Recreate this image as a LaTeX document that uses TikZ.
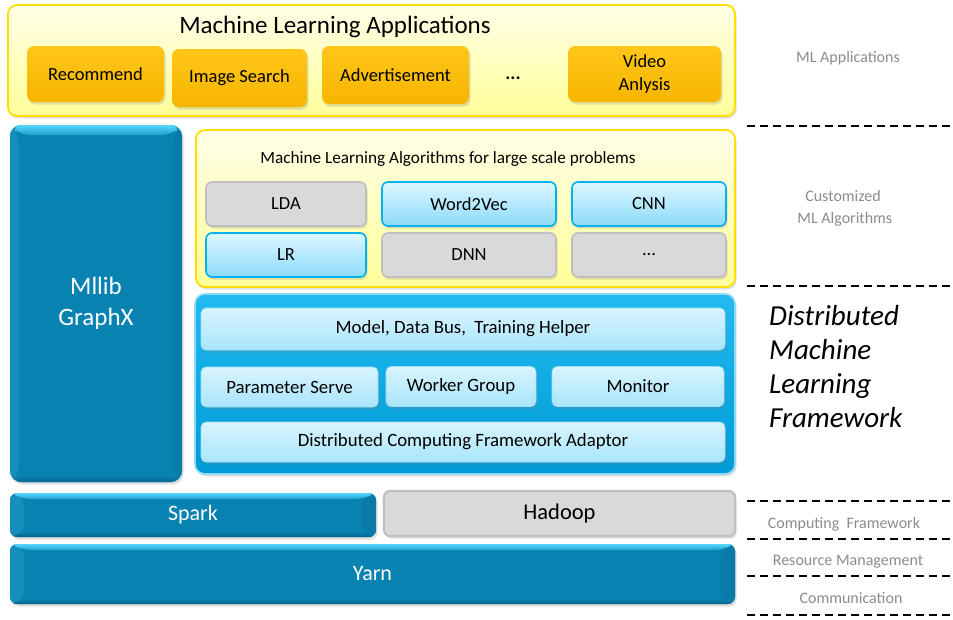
\documentclass[tikz,border=0pt]{standalone}
\usepackage{fontspec}
\setmainfont{Carlito}
\usetikzlibrary{shadows}
\definecolor{ylwtop}{HTML}{FFFFE8}
\definecolor{ylwbot}{HTML}{FFFF99}
\definecolor{ylwedge}{HTML}{FFDE00}
\definecolor{orgtop}{HTML}{FFC619}
\definecolor{orgbot}{HTML}{F7B500}
\definecolor{bvtop}{HTML}{55D6FA}
\definecolor{bvtoplow}{HTML}{1FA2D0}
\definecolor{bvmid}{HTML}{0882B1}
\definecolor{bvleft}{HTML}{168FBD}
\definecolor{bvright}{HTML}{0A7AA6}
\definecolor{bvbot}{HTML}{05648C}
\definecolor{ltbtop}{HTML}{DDF6FF}
\definecolor{ltbbot}{HTML}{8CDBFA}
\definecolor{ltbedge}{HTML}{00B0F0}
\definecolor{grayfill}{HTML}{D9D9D9}
\definecolor{grayedge}{HTML}{BFBFBF}
\definecolor{fwtop}{HTML}{22BAF0}
\definecolor{fwbot}{HTML}{009BD6}
\definecolor{fwedge}{HTML}{8ED9F6}
\definecolor{fwintop}{HTML}{D8F4FE}
\definecolor{fwinbot}{HTML}{A9E5FB}
\definecolor{fwinedge}{HTML}{9ADFF8}
\definecolor{lblgray}{HTML}{8C8C8C}
\newcommand{\bvpic}[3]{%
  \fill[bvleft] (path picture bounding box.north west) -- (path picture bounding box.south west)
    -- ([shift={(#1,#3)}]path picture bounding box.south west) -- ([shift={(#1,-#2)}]path picture bounding box.north west) -- cycle;
  \fill[bvright] (path picture bounding box.north east) -- (path picture bounding box.south east)
    -- ([shift={(-#1,#3)}]path picture bounding box.south east) -- ([shift={(-#1,-#2)}]path picture bounding box.north east) -- cycle;
  \shade[top color=bvtop, bottom color=bvtoplow] (path picture bounding box.north west) -- (path picture bounding box.north east)
    -- ([shift={(-#1,-#2)}]path picture bounding box.north east) -- ([shift={(#1,-#2)}]path picture bounding box.north west) -- cycle;
  \shade[top color=bvmid, bottom color=bvbot] (path picture bounding box.south west) -- (path picture bounding box.south east)
    -- ([shift={(-#1,#3)}]path picture bounding box.south east) -- ([shift={(#1,#3)}]path picture bounding box.south west) -- cycle;
}
\tikzset{
  fs/.style={font=\fontsize{#1}{#1}\selectfont},
  shad/.style={drop shadow={opacity=0.25, shadow xshift=1.5pt, shadow yshift=-2.5pt}},
  yelbox/.style={rounded corners=9pt, top color=ylwtop, bottom color=ylwbot, draw=ylwedge, line width=1.8pt, shad},
  orgbox/.style={rounded corners=7pt, top color=orgtop, bottom color=orgbot, shad, fs=18.5, align=center, inner sep=0pt},
  bevel/.style={rounded corners=11pt, fill=bvmid, shad, text=white, inner sep=0pt,
    path picture={\bvpic{9pt}{10pt}{6pt}}},
  bevelflat/.style={rounded corners=7pt, fill=bvmid, shad, text=white, inner sep=0pt,
    path picture={\bvpic{14pt}{6pt}{5pt}}},
  ltbbox/.style={rounded corners=6pt, top color=ltbtop, bottom color=ltbbot, draw=ltbedge, line width=1.6pt, shad, fs=18.5, inner sep=0pt},
  graybox/.style={rounded corners=6pt, fill=grayfill, draw=grayedge, line width=1.6pt, shad, fs=18.5, inner sep=0pt},
  fwbox/.style={rounded corners=10pt, top color=fwtop, bottom color=fwbot, draw=fwedge, line width=1.6pt, shad},
  fwin/.style={rounded corners=5pt, top color=fwintop, bottom color=fwinbot, draw=fwinedge, line width=0.6pt, shad, fs=18.8, inner sep=0pt},
  sidelbl/.style={text=lblgray, fs=16, align=center},
  sep/.style={dash pattern=on 8pt off 5pt, line width=1.8pt},
}
\begin{document}
\begin{tikzpicture}[x=1pt,y=-1pt]
\useasboundingbox (0,0) rectangle (953,619);
\fill[white] (0,0) rectangle (953,619);

% ML Applications
\node[yelbox, minimum width=727pt, minimum height=111pt] (mlapp) at (371.5,60.5) {};
\node[fs=25] (mlapptitle) at (335,27) {Machine Learning Applications};
\node[orgbox, minimum width=137pt, minimum height=56pt] (rec) at (95.5,74) {Recommend};
\node[orgbox, minimum width=135pt, minimum height=58pt] (img) at (239.5,78) {Image Search};
\node[orgbox, minimum width=147pt, minimum height=58pt] (adv) at (395.5,75) {Advertisement};
\node[fs=19] (appdots) at (513,78) {\textbf{...}};
\node[orgbox, minimum width=153pt, minimum height=56pt] (vid) at (644.5,74) {Video\\[4pt]Anlysis};

% Mllib GraphX
\node[bevel, minimum width=172pt, minimum height=357pt, fs=25, align=center] (mllib) at (96,303.5) {Mllib\\[6pt]GraphX};

% Algorithms
\node[yelbox, minimum width=539pt, minimum height=157pt] (algo) at (465.5,208.5) {};
\node[fs=17.2] (algotitle) at (448,159) {Machine Learning Algorithms for large scale problems};
\node[graybox, minimum width=160pt, minimum height=44pt] (lda) at (286,204) {LDA};
\node[ltbbox, minimum width=174pt, minimum height=44pt] (w2v) at (469,204) {Word2Vec};
\node[ltbbox, minimum width=154pt, minimum height=44pt] (cnn) at (649,204) {CNN};
\node[ltbbox, minimum width=160pt, minimum height=44pt] (lr) at (286,255) {LR};
\node[graybox, minimum width=174pt, minimum height=44pt] (dnn) at (469,255) {DNN};
\node[graybox, minimum width=154pt, minimum height=44pt] (algdots) at (649,255) {...};

% Framework
\node[fwbox, minimum width=540pt, minimum height=180pt] (fw) at (465,384) {};
\node[fwin, minimum width=524pt, minimum height=42pt] (model) at (463,329) {Model,\ Data Bus,\ \ Training Helper};
\node[fwin, minimum width=177pt, minimum height=40pt] (ps) at (289.5,387) {Parameter Serve};
\node[fwin, minimum width=150pt, minimum height=40pt] (wg) at (461,386.5) {Worker Group};
\node[fwin, minimum width=172pt, minimum height=40pt] (mon) at (638,386.5) {Monitor};
\node[fwin, minimum width=524pt, minimum height=40pt] (dcfa) at (463,442) {Distributed Computing Framework Adaptor};

% Computing / Resource
\node[bevelflat, minimum width=366pt, minimum height=44pt, fs=22] (spark) at (193,515) {Spark};
\node[graybox, line width=2.2pt, minimum width=351pt, minimum height=45pt, fs=22.5] (hadoop) at (559.5,513.5) {Hadoop};
\node[bevelflat, minimum width=725pt, minimum height=60pt, fs=22] (yarn) at (372.5,574) {Yarn};

% Side labels
\node[sidelbl] (lblapp) at (848,58) {ML Applications};
\node[sidelbl] (lblalg) at (843,208) {Customized\\[6pt]\ ML Algorithms};
\node[align=left, anchor=north west, inner sep=0pt, font=\itshape\fontsize{29}{34}\selectfont] (lbldml) at (769,305)
  {Distributed\\Machine\\Learning\\Framework};
\node[sidelbl] (lblcf) at (844,524) {Computing\ \ Framework};
\node[sidelbl] (lblrm) at (848,562) {Resource Management};
\node[sidelbl] (lblcm) at (851,598) {Communication};

% Separators
\foreach \yy in {126,286,501,539,576,615} {
  \draw[sep] (747,\yy) -- (951,\yy);
}
\end{tikzpicture}
\end{document}
